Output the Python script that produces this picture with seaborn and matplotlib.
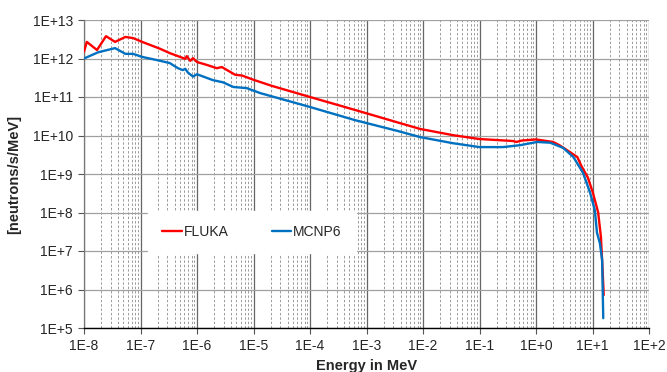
import matplotlib
matplotlib.use("Agg")
import matplotlib.pyplot as plt
import matplotlib.ticker as mticker
import numpy as np
import pandas as pd
import seaborn as sns

# ---- data ----
fluka_energy = [1.0e-8, 1.12e-8, 1.7e-8, 2.45e-8, 3.55e-8, 5.4e-8, 7.4e-8, 1.07e-7,
                2.24e-7, 3.3e-7, 6.2e-7, 6.6e-7, 7.6e-7, 8.5e-7, 1.0e-6, 1.5e-6,
                2.24e-6, 2.75e-6, 4.7e-6, 6.3e-6, 1.0e-5, 2.1e-5, 1.0e-4, 6.3e-4,
                3.5e-3, 8.9e-3, 3.4e-2, 0.10, 0.39, 0.45, 0.56, 1.0, 2.0, 2.6, 4.0,
                5.4, 6.3, 8.3, 10.2, 12.6, 14.1, 15.0, 15.8]
fluka_flux = [1.5e12, 2.7e12, 1.66e12, 3.8e12, 2.7e12, 3.63e12, 3.39e12, 2.7e12,
              1.78e12, 1.38e12, 9.8e11, 1.15e12, 8.7e11, 1.02e12, 8.1e11, 6.8e11,
              5.6e11, 6.0e11, 3.8e11, 3.6e11, 2.8e11, 1.95e11, 1.0e11, 4.6e10,
              2.2e10, 1.48e10, 1.02e10, 8.1e9, 7.2e9, 6.8e9, 7.4e9, 7.9e9, 6.8e9,
              5.6e9, 3.7e9, 2.75e9, 1.66e9, 8.0e8, 3.2e8, 1.0e8, 2.3e7, 3.8e6, 7.2e5]

mcnp_energy = [1e-8, 1.78e-8, 3.55e-8, 5.4e-8, 7.4e-8, 1.07e-7, 2.24e-7, 3.3e-7,
               4.6e-7, 5.6e-7, 6.2e-7, 6.9e-7, 8.5e-7, 1e-6, 1.9e-6, 2.9e-6, 4.4e-6,
               7.6e-6, 1.32e-5, 1e-4, 6.3e-4, 3.5e-3, 8.9e-3, 3.4e-2, 0.10, 0.26,
               0.52, 1.05, 1.78, 3.0, 4.6, 6.8, 9.1, 11.0, 12.0, 13.5, 14.8, 15.5]
mcnp_flux = [1.0e12, 1.45e12, 1.86e12, 1.32e12, 1.32e12, 1.1e12, 8.7e11, 7.6e11,
             5.6e11, 5.0e11, 5.4e11, 4.3e11, 3.4e11, 3.9e11, 2.75e11, 2.4e11, 1.82e11,
             1.7e11, 1.26e11, 5.5e10, 2.5e10, 1.32e10, 9.1e9, 6.3e9, 5.0e9, 5.0e9,
             5.6e9, 6.8e9, 6.5e9, 4.8e9, 2.75e9, 1.07e9, 3.2e8, 1.15e8, 3.0e7, 1.6e7,
             5.9e6, 1.8e5]

series_names = ["FLUKA", "MCNP6"]
series_colors = ["#ff0000", "#0070c0"]

x_ticks = [1e-8, 1e-7, 1e-6, 1e-5, 1e-4, 1e-3, 1e-2, 1e-1, 1e0, 1e1, 1e2]
x_ticklabels = ["1E-8", "1E-7", "1E-6", "1E-5", "1E-4", "1E-3", "1E-2", "1E-1",
                "1E+0", "1E+1", "1E+2"]
y_ticks = [1e5, 1e6, 1e7, 1e8, 1e9, 1e10, 1e11, 1e12, 1e13]
y_ticklabels = ["1E+5", "1E+6", "1E+7", "1E+8", "1E+9", "1E+10", "1E+11",
                "1E+12", "1E+13"]

df = pd.concat([
    pd.DataFrame({"energy": fluka_energy, "flux": fluka_flux, "code": series_names[0]}),
    pd.DataFrame({"energy": mcnp_energy, "flux": mcnp_flux, "code": series_names[1]}),
], ignore_index=True)

sns.set_style("white")
plt.rcParams["font.family"] = ["Liberation Sans", "DejaVu Sans"]

fig = plt.figure(figsize=(6.67, 3.72), dpi=100)
ax = fig.add_axes([84 / 667, 1 - 328 / 372, 565 / 667, 308 / 372])

sns.lineplot(data=df, x="energy", y="flux", hue="code", hue_order=series_names,
             palette=series_colors, sort=False, estimator=None, linewidth=1.7,
             ax=ax, zorder=3)

ax.set_xscale("log")
ax.set_yscale("log")
ax.set_xlim(1e-8, 1e2)
ax.set_ylim(1e5, 1e13)

ax.set_xticks(x_ticks)
ax.set_xticklabels(x_ticklabels)
ax.set_yticks(y_ticks)
ax.set_yticklabels(y_ticklabels)
ax.xaxis.set_minor_locator(mticker.LogLocator(base=10, subs=np.arange(2, 10), numticks=50))
ax.yaxis.set_minor_locator(mticker.NullLocator())

ax.grid(False)
ax.xaxis.grid(True, which="major", color="#666666", linewidth=0.9)
ax.yaxis.grid(True, which="major", color="#a0a0a0", linewidth=0.9)
ax.xaxis.grid(True, which="minor", color="#9a9a9a", linewidth=0.7, linestyle=(0, (2.5, 2)))
ax.set_axisbelow(True)

ax.tick_params(which="major", direction="out", length=4.5, width=0.8, color="#555555",
               labelsize=10, pad=3.5, left=True, bottom=True)
ax.tick_params(which="minor", length=0)

for side in ["top", "right"]:
    ax.spines[side].set_visible(False)
ax.spines["left"].set_color("#777777")
ax.spines["bottom"].set_color("#000000")
ax.spines["left"].set_linewidth(0.9)
ax.spines["bottom"].set_linewidth(1.0)

ax.set_xlabel("Energy in MeV", fontsize=10.5, fontweight="bold", labelpad=4)
ax.set_ylabel("[neutrons/s/MeV]", fontsize=10.5, fontweight="bold", labelpad=8)

handles, labels = ax.get_legend_handles_labels()
leg = ax.legend(handles, labels, ncol=2, loc="center",
                bbox_to_anchor=((252 - 84) / 565, (328 - 232) / 308),
                frameon=True, fancybox=False, framealpha=1, facecolor="white",
                edgecolor="white", fontsize=10, handlelength=1.4, handletextpad=0.15,
                columnspacing=3.1, borderpad=1.0)
leg.set_zorder(5)

fig.savefig("out.png", dpi=100)
